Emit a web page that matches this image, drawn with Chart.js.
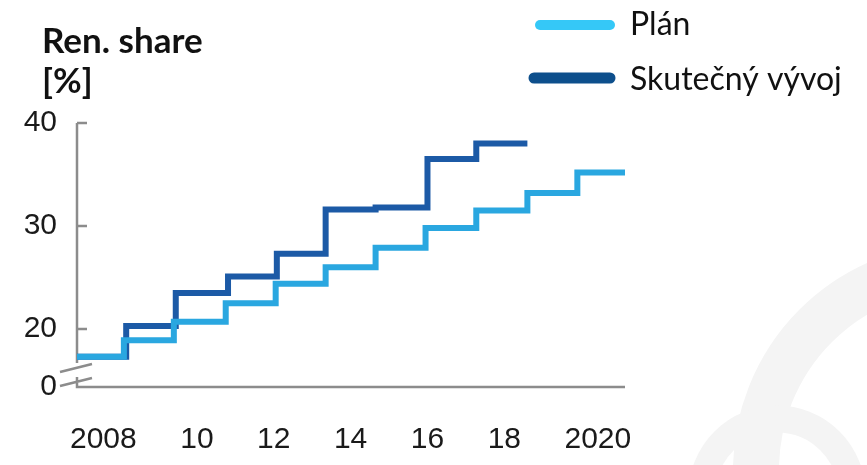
<!DOCTYPE html>
<html>
<head>
<meta charset="utf-8">
<script src="https://cdn.jsdelivr.net/npm/chart.js@4.4.1/dist/chart.umd.min.js"></script>
<style>
  html, body { margin: 0; padding: 0; background: #fff; }
  #wrap { position: relative; width: 867px; height: 465px; }
</style>
</head>
<body>
<div id="wrap"><canvas id="shareChart"></canvas></div>
<script>
// renewable share, stepped: each level is held until the next year value
var seriesNames = ['Plán', 'Skutečný vývoj'];

var planYears = [2006.88, 2008.10, 2009.40, 2010.75, 2012.05, 2013.35, 2014.65, 2015.95, 2017.27, 2018.60, 2019.90, 2021.14];
var planShare = [17.3, 18.9, 20.7, 22.5, 24.4, 26.0, 27.9, 29.8, 31.5, 33.2, 35.2, 35.2];

var actualYears = [2006.88, 2008.16, 2009.45, 2010.81, 2012.08, 2013.35, 2014.65, 2016.00, 2017.27, 2018.60];
var actualShare = [17.3, 20.3, 23.5, 25.1, 27.3, 31.6, 31.8, 36.5, 38.0, 38.0];

var xTicks = [2008, 2010, 2012, 2014, 2016, 2018, 2020];
var xTickLabels = ['2008', '10', '12', '14', '16', '18', '2020'];
var yTicks = [20, 30, 40];
var yFloor = 14.37; // broken axis: the bottom edge is labelled 0

var planColor = '#2aa7e0';
var actualColor = '#1c5aa6';

function toPoints(xs, ys) {
  return xs.map(function (x, i) { return { x: x, y: ys[i] }; });
}

// faint ring logo behind the plot
var watermark = {
  id: 'watermark',
  beforeDraw: function (chart) {
    var ctx = chart.ctx;
    ctx.save();
    ctx.fillStyle = '#fff';
    ctx.fillRect(0, 0, chart.width, chart.height);
    ctx.strokeStyle = '#f4f4f4';
    ctx.lineWidth = 46;
    ctx.beginPath(); ctx.arc(960, 470, 204, 0, Math.PI * 2); ctx.stroke();
    ctx.lineWidth = 27;
    ctx.beginPath(); ctx.arc(777, 494, 75, 0, Math.PI * 2); ctx.stroke();
    ctx.restore();
  }
};

// L-shaped axis with inward ticks and a break near the bottom
var axisFrame = {
  id: 'axisFrame',
  beforeDatasetsDraw: function (chart) {
    var ctx = chart.ctx, xs = chart.scales.x, ys = chart.scales.y;
    var left = xs.left, right = xs.right;
    var top = ys.getPixelForValue(40), bottom = ys.bottom;
    ctx.save();
    ctx.strokeStyle = '#8c8c8c';
    ctx.lineWidth = 2.5;
    ctx.beginPath();
    ctx.moveTo(left, top);
    ctx.lineTo(left, bottom - 24);
    ctx.moveTo(left, bottom - 10);
    ctx.lineTo(left, bottom);
    ctx.lineTo(right, bottom);
    yTicks.forEach(function (v) {
      var py = ys.getPixelForValue(v);
      ctx.moveTo(left, py);
      ctx.lineTo(left + 10, py);
    });
    ctx.moveTo(left - 17, bottom - 15);
    ctx.lineTo(left + 15, bottom - 23);
    ctx.moveTo(left - 17, bottom - 1);
    ctx.lineTo(left + 15, bottom - 9);
    ctx.stroke();
    ctx.restore();
  }
};

// axis title and legend
var captions = {
  id: 'captions',
  afterDraw: function (chart) {
    var ctx = chart.ctx;
    ctx.save();
    ctx.textBaseline = 'alphabetic';
    ctx.fillStyle = '#111';
    ctx.font = 'bold 35px Lato';
    ctx.fillText('Ren. share', 42, 53);
    ctx.fillText('[%]', 42, 93);

    ctx.lineCap = 'round';
    ctx.lineWidth = 10;
    ctx.strokeStyle = '#35c8f7';
    ctx.beginPath(); ctx.moveTo(540, 25); ctx.lineTo(610, 25); ctx.stroke();
    ctx.lineWidth = 11;
    ctx.strokeStyle = '#0d4f8c';
    ctx.beginPath(); ctx.moveTo(534, 78); ctx.lineTo(610, 78); ctx.stroke();

    ctx.fillStyle = '#111';
    ctx.font = '32px Lato';
    ctx.fillText(seriesNames[0], 630, 35);
    ctx.fillText(seriesNames[1], 630, 90);
    ctx.restore();
  }
};

var tickFont = { family: 'Liberation Sans', size: 30 };

new Chart(document.getElementById('shareChart'), {
  type: 'line',
  data: {
    datasets: [
      {
        label: seriesNames[0],
        data: toPoints(planYears, planShare),
        borderColor: planColor,
        borderWidth: 6,
        stepped: true
      },
      {
        label: seriesNames[1],
        data: toPoints(actualYears, actualShare),
        borderColor: actualColor,
        borderWidth: 6,
        stepped: true
      }
    ]
  },
  options: {
    responsive: true,
    maintainAspectRatio: false,
    animation: false,
    layout: { padding: { top: 123, right: 242, left: 0, bottom: 0 } },
    plugins: { legend: { display: false }, tooltip: { enabled: false } },
    elements: {
      point: { radius: 0 },
      line: { tension: 0, borderJoinStyle: 'miter', borderCapStyle: 'butt' }
    },
    scales: {
      x: {
        type: 'linear',
        min: 2006.88,
        max: 2021.14,
        grid: { display: false, drawTicks: false },
        border: { display: false },
        afterBuildTicks: function (s) { s.ticks = xTicks.map(function (v) { return { value: v }; }); },
        afterFit: function (s) { s.height = 78; },
        ticks: {
          autoSkip: false,
          maxRotation: 0,
          padding: 35,
          color: '#1a1a1a',
          font: tickFont,
          // the wide end labels sit a little outward
          callback: function (v) {
            var i = xTicks.indexOf(v);
            if (i === 0) return xTickLabels[i] + '    ';
            if (i === xTicks.length - 1) return '    ' + xTickLabels[i];
            return xTickLabels[i];
          }
        }
      },
      y: {
        min: yFloor,
        max: 40,
        grid: { display: false, drawTicks: false },
        border: { display: false },
        afterBuildTicks: function (s) { s.ticks = [yFloor].concat(yTicks).map(function (v) { return { value: v }; }); },
        afterFit: function (s) { s.width = 77; },
        ticks: {
          padding: 20,
          color: '#1a1a1a',
          font: tickFont,
          callback: function (v) { return v === yFloor ? '0' : String(v); }
        }
      }
    }
  },
  plugins: [watermark, axisFrame, captions]
});
</script>
</body>
</html>
